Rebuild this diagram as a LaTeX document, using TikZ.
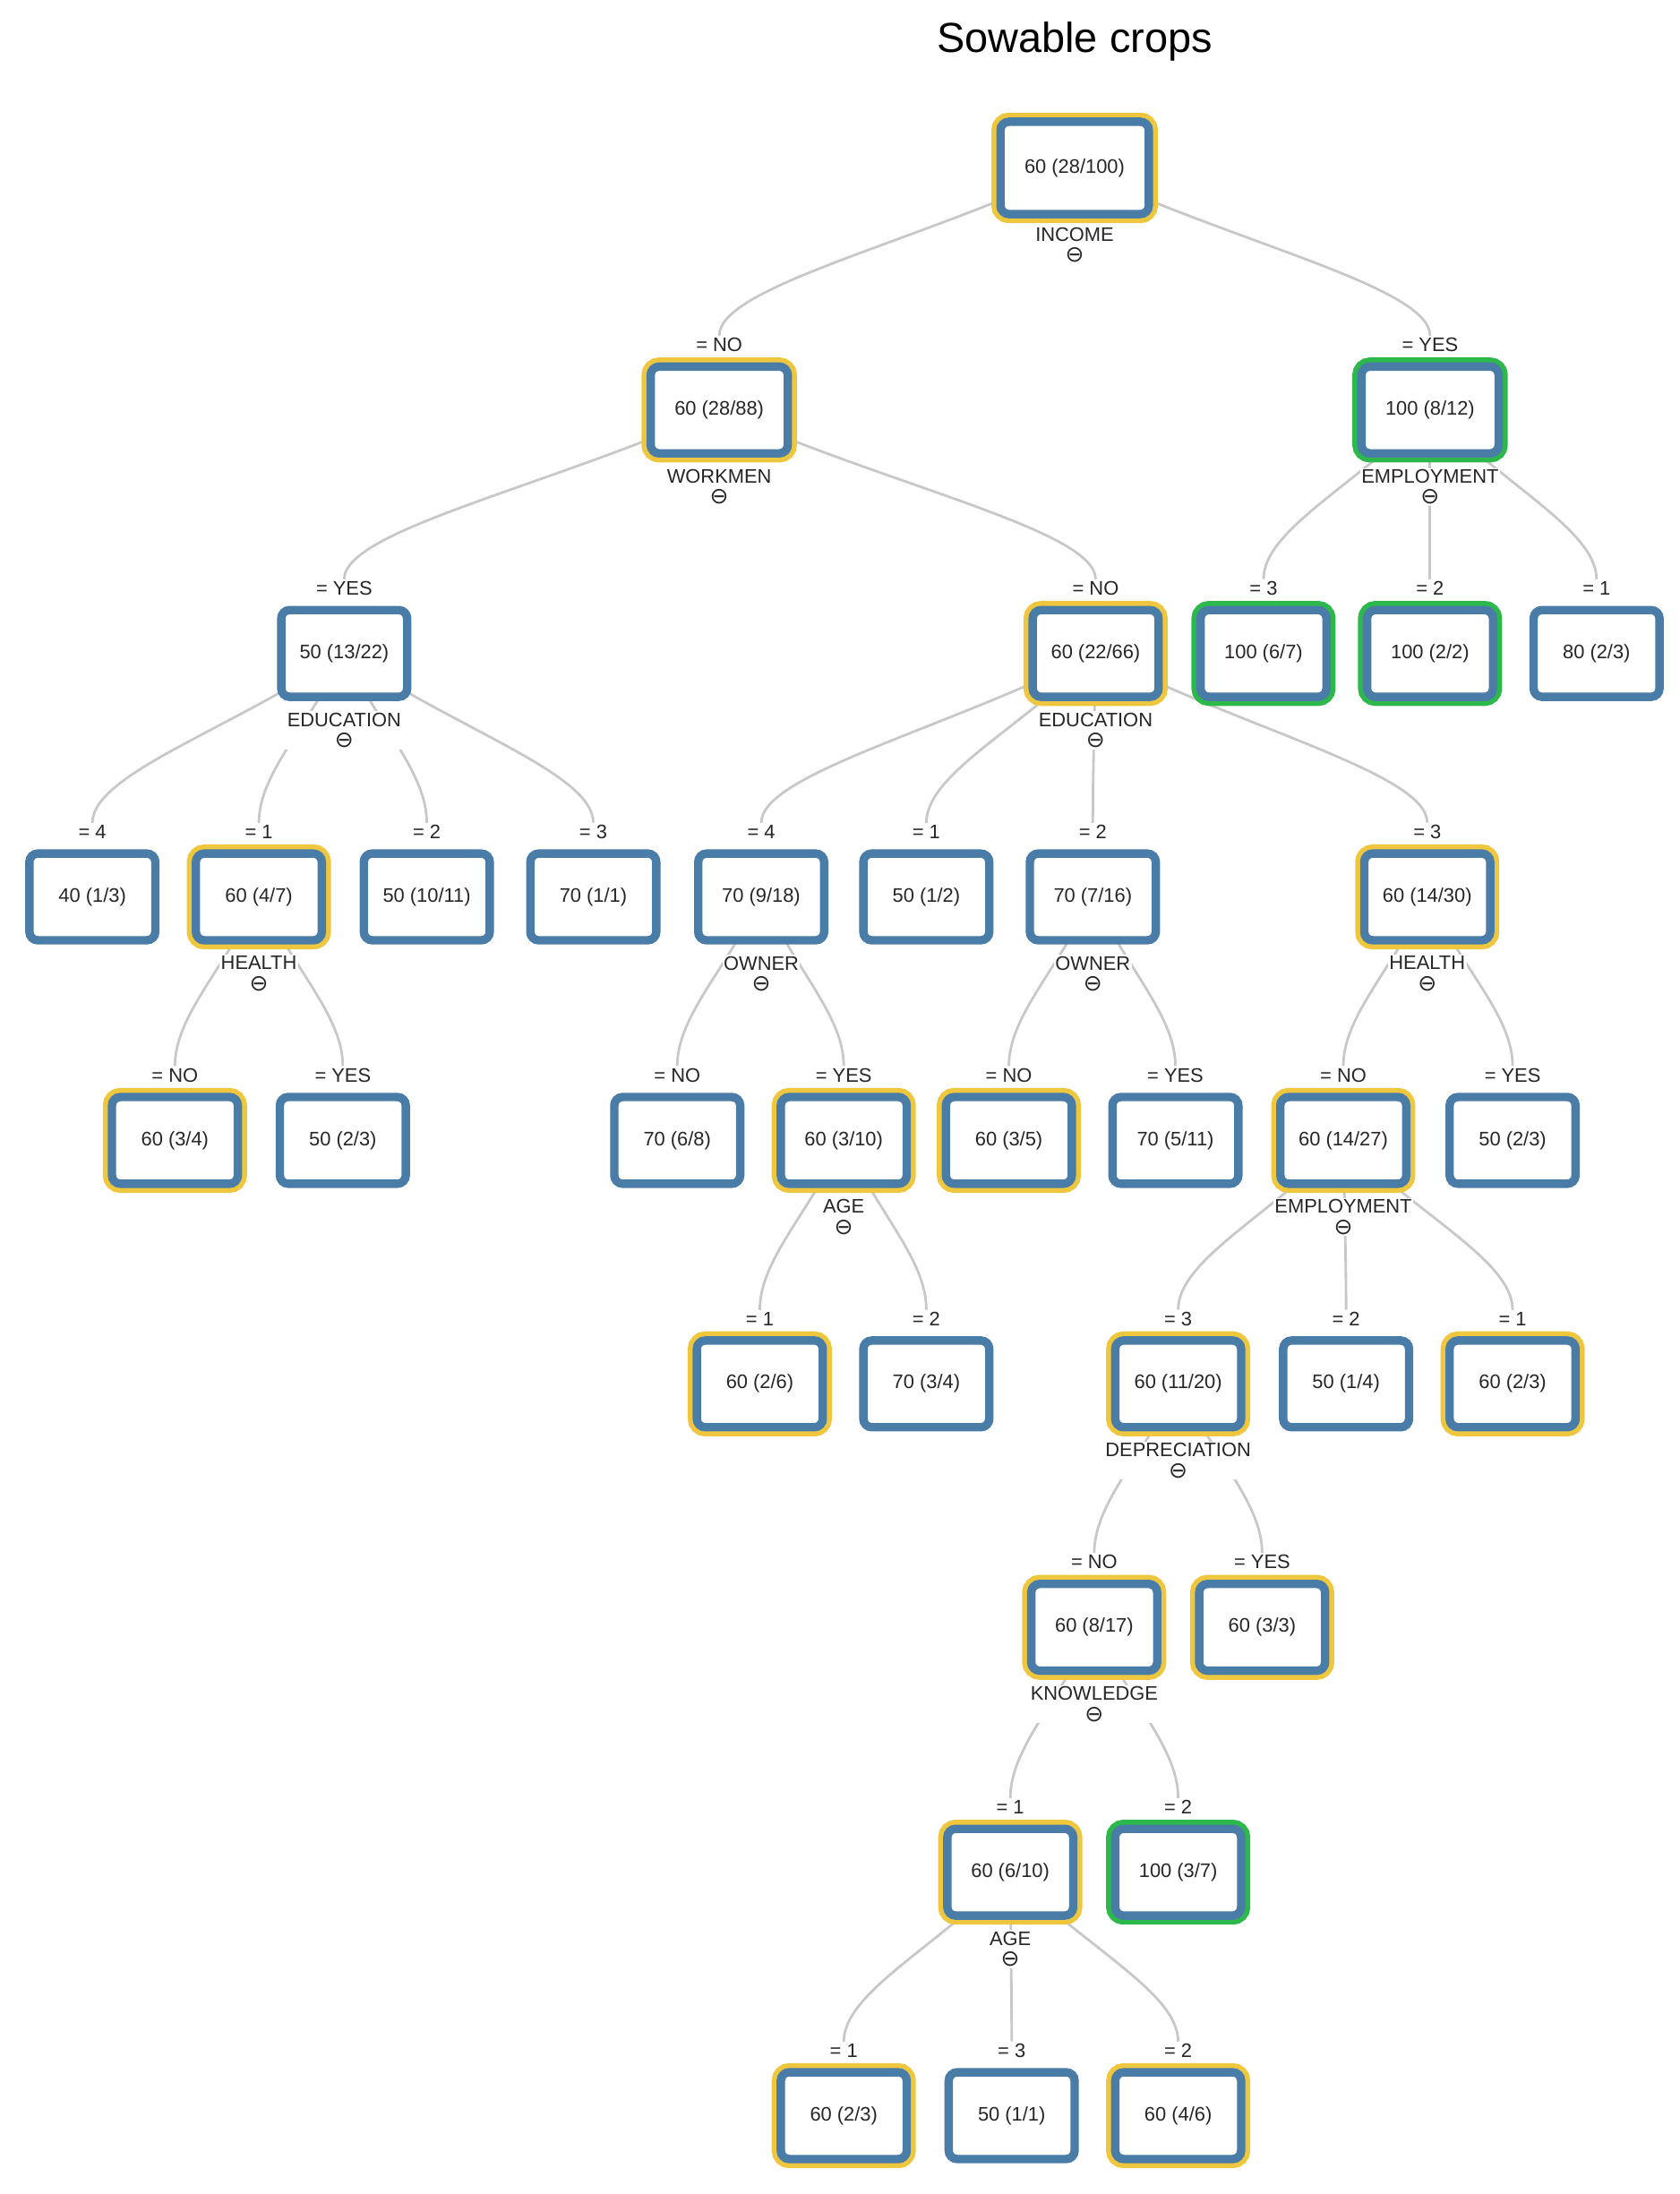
\documentclass[tikz,border=0pt]{standalone}
\usepackage{fontspec}
\setmainfont{Liberation Sans}
\newfontfamily\symf{DejaVu Sans}
\usetikzlibrary{backgrounds,calc}
\definecolor{bl}{HTML}{4A7CA8}
\definecolor{yl}{HTML}{EFC73E}
\definecolor{gr}{HTML}{2DB84B}
\definecolor{ln}{HTML}{C8C8C8}
\tikzset{
 bx/.style={draw=bl, line width=3pt, fill=white, rounded corners=3pt, minimum width=45pt, minimum height=31pt, font=\fontsize{7}{8}\selectfont, text=black!85},
 ybx/.style={bx, preaction={draw=yl, line width=6.5pt}},
 gbx/.style={bx, preaction={draw=gr, line width=6.5pt}},
 elab/.style={fill=white, inner sep=0.6pt, font=\fontsize{7}{8}\selectfont, text=black!85},
 alab/.style={fill=white, inner sep=0.5pt, align=center, font=\fontsize{7}{8.5}\selectfont, text=black!85},
 edge/.style={draw=ln, line width=0.9pt}
}
\newcommand{\tn}[6]{\node[#4] (#1) at (#2,#3) {#5};
 \node[elab, anchor=south] (#1-l) at ($(#1)+(0,-40)$) {#6};}
\newcommand{\attr}[2]{\node[alab, anchor=north] (#1-a) at ($(#1)+(0,41)$) {#2\\[-1pt]{\symf\fontsize{8}{8}\selectfont ⊖}};}
\newcommand{\ed}[2]{\path[edge] (#1.center) .. controls ($(#1.center)!0.45!(#2-l.north)$) and ($(#2-l.north)+(0,-35)$) .. (#2-l.north);}
\begin{document}
\begin{tikzpicture}[x=0.5pt,y=-0.5pt]
\useasboundingbox (0,0) rectangle (1200,1568);
\node[font=\fontsize{15}{18}\selectfont] (title) at (768,30) {Sowable crops};
\node[ybx, minimum width=53pt, minimum height=33pt] (r) at (768,120) {60 (28/100)};
\attr{r}{INCOME}
\tn{n1}{514}{293}{ybx, minimum width=49pt}{60 (28/88)}{= NO}
\tn{n2}{1022}{293}{gbx, minimum width=49pt}{100 (8/12)}{= YES}
\attr{n1}{WORKMEN}
\attr{n2}{EMPLOYMENT}
\tn{a}{246}{467}{bx}{50 (13/22)}{= YES}
\tn{b}{783}{467}{ybx}{60 (22/66)}{= NO}
\tn{c}{903}{467}{gbx}{100 (6/7)}{= 3}
\tn{d}{1022}{467}{gbx}{100 (2/2)}{= 2}
\tn{e}{1141}{467}{bx}{80 (2/3)}{= 1}
\attr{a}{EDUCATION}
\attr{b}{EDUCATION}
\tn{a1}{66}{641}{bx}{40 (1/3)}{= 4}
\tn{a2}{185}{641}{ybx}{60 (4/7)}{= 1}
\tn{a3}{305}{641}{bx}{50 (10/11)}{= 2}
\tn{a4}{424}{641}{bx}{70 (1/1)}{= 3}
\tn{b1}{544}{641}{bx}{70 (9/18)}{= 4}
\tn{b2}{662}{641}{bx}{50 (1/2)}{= 1}
\tn{b3}{781}{641}{bx}{70 (7/16)}{= 2}
\tn{b4}{1020}{641}{ybx}{60 (14/30)}{= 3}
\attr{a2}{HEALTH}
\attr{b1}{OWNER}
\attr{b3}{OWNER}
\attr{b4}{HEALTH}
\tn{c1}{125}{815}{ybx}{60 (3/4)}{= NO}
\tn{c2}{245}{815}{bx}{50 (2/3)}{= YES}
\tn{c3}{484}{815}{bx}{70 (6/8)}{= NO}
\tn{c4}{603}{815}{ybx}{60 (3/10)}{= YES}
\tn{c5}{721}{815}{ybx}{60 (3/5)}{= NO}
\tn{c6}{840}{815}{bx}{70 (5/11)}{= YES}
\tn{c7}{960}{815}{ybx}{60 (14/27)}{= NO}
\tn{c8}{1081}{815}{bx}{50 (2/3)}{= YES}
\attr{c4}{AGE}
\attr{c7}{EMPLOYMENT}
\tn{d1}{543}{989}{ybx}{60 (2/6)}{= 1}
\tn{d2}{662}{989}{bx}{70 (3/4)}{= 2}
\tn{d3}{842}{989}{ybx}{60 (11/20)}{= 3}
\tn{d4}{962}{989}{bx}{50 (1/4)}{= 2}
\tn{d5}{1081}{989}{ybx}{60 (2/3)}{= 1}
\attr{d3}{DEPRECIATION}
\tn{e1}{782}{1163}{ybx}{60 (8/17)}{= NO}
\tn{e2}{902}{1163}{ybx}{60 (3/3)}{= YES}
\attr{e1}{KNOWLEDGE}
\tn{f1}{722}{1338}{ybx}{60 (6/10)}{= 1}
\tn{f2}{842}{1338}{gbx}{100 (3/7)}{= 2}
\attr{f1}{AGE}
\tn{g1}{603}{1512}{ybx}{60 (2/3)}{= 1}
\tn{g2}{723}{1512}{bx}{50 (1/1)}{= 3}
\tn{g3}{842}{1512}{ybx}{60 (4/6)}{= 2}
\begin{scope}[on background layer]
\ed{r}{n1}\ed{r}{n2}
\ed{n1}{a}\ed{n1}{b}
\ed{n2}{c}\ed{n2}{d}\ed{n2}{e}
\ed{a}{a1}\ed{a}{a2}\ed{a}{a3}\ed{a}{a4}
\ed{b}{b1}\ed{b}{b2}\ed{b}{b3}\ed{b}{b4}
\ed{a2}{c1}\ed{a2}{c2}
\ed{b1}{c3}\ed{b1}{c4}
\ed{b3}{c5}\ed{b3}{c6}
\ed{b4}{c7}\ed{b4}{c8}
\ed{c4}{d1}\ed{c4}{d2}
\ed{c7}{d3}\ed{c7}{d4}\ed{c7}{d5}
\ed{d3}{e1}\ed{d3}{e2}
\ed{e1}{f1}\ed{e1}{f2}
\ed{f1}{g1}\ed{f1}{g2}\ed{f1}{g3}
\end{scope}
\end{tikzpicture}
\end{document}
